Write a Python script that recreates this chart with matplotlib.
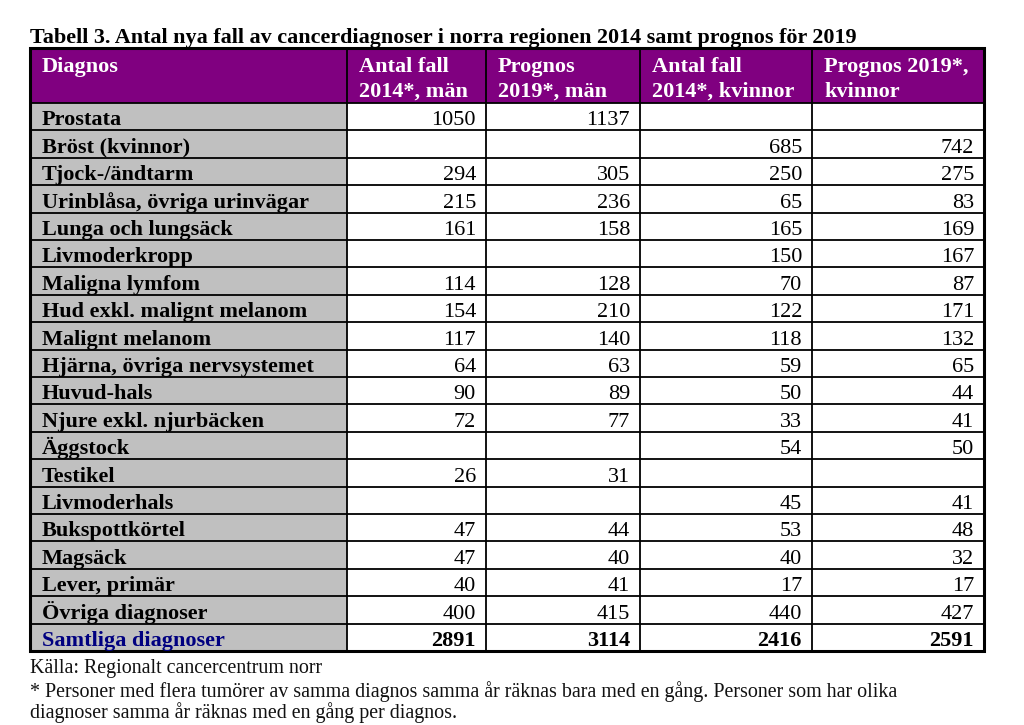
import matplotlib.pyplot as plt
from matplotlib.patches import Rectangle

plt.rcParams['font.family'] = ['Liberation Serif', 'DejaVu Serif']

title = 'Tabell 3. Antal nya fall av cancerdiagnoser i norra regionen 2014 samt prognos för 2019'
headers = [['Diagnos'], ['Antal fall', '2014*, män'], ['Prognos', '2019*, män'],
           ['Antal fall', '2014*, kvinnor'], ['Prognos 2019*,', 'kvinnor']]

diagnoser = ['Prostata', 'Bröst (kvinnor)', 'Tjock-/ändtarm', 'Urinblåsa, övriga urinvägar',
             'Lunga och lungsäck', 'Livmoderkropp', 'Maligna lymfom', 'Hud exkl. malignt melanom',
             'Malignt melanom', 'Hjärna, övriga nervsystemet', 'Huvud-hals', 'Njure exkl. njurbäcken',
             'Äggstock', 'Testikel', 'Livmoderhals', 'Bukspottkörtel', 'Magsäck', 'Lever, primär',
             'Övriga diagnoser', 'Samtliga diagnoser']
man_2014 = [1050, None, 294, 215, 161, None, 114, 154, 117, 64, 90, 72, None, 26, None, 47, 47, 40, 400, 2891]
man_2019 = [1137, None, 305, 236, 158, None, 128, 210, 140, 63, 89, 77, None, 31, None, 44, 40, 41, 415, 3114]
kv_2014 = [None, 685, 250, 65, 165, 150, 70, 122, 118, 59, 50, 33, 54, None, 45, 53, 40, 17, 440, 2416]
kv_2019 = [None, 742, 275, 83, 169, 167, 87, 171, 132, 65, 44, 41, 50, None, 41, 48, 32, 17, 427, 2591]

kalla = 'Källa: Regionalt cancercentrum norr'
fotnot = ['* Personer med flera tumörer av samma diagnos samma år räknas bara med en gång. Personer som har olika',
          'diagnoser samma år räknas med en gång per diagnos.']

W, H = 1024, 725
fig = plt.figure(figsize=(W / 100, H / 100), dpi=100)
ax = fig.add_axes([0, 0, 1, 1])
ax.set_xlim(0, W)
ax.set_ylim(H, 0)
ax.axis('off')

# layout in pixels
col_x = [30, 347, 486, 640, 812, 984]
top = 48
head_h = 55
row_h = 27.4
fs = 16
purple = '#800080'
grey = '#C0C0C0'

ax.text(30, 43, title, fontsize=15.9, fontweight='bold', va='baseline', ha='left')

# header
ax.add_patch(Rectangle((col_x[0], top), col_x[-1] - col_x[0], head_h, facecolor=purple, edgecolor='none'))
for i, h in enumerate(headers):
    for k, line in enumerate(h):
        ax.text(col_x[i] + 12, top + 24 + k * 25, line, fontsize=fs, fontweight='bold',
                color='white', va='baseline', ha='left')

cols = [man_2014, man_2019, kv_2014, kv_2019]
y0 = top + head_h
n = len(diagnoser)
for r, lab in enumerate(diagnoser):
    y = y0 + r * row_h
    ax.add_patch(Rectangle((col_x[0], y), col_x[1] - col_x[0], row_h, facecolor=grey, edgecolor='none'))
    last = r == n - 1
    ax.text(col_x[0] + 12, y + row_h - 5, lab, fontsize=fs, fontweight='bold',
            color='#000080' if last else 'black', va='baseline', ha='left')
    for c, vals in enumerate(cols):
        v = vals[r]
        if v is None:
            continue
        ax.text(col_x[c + 2] - 10, y + row_h - 5, str(v), fontsize=fs,
                fontweight='bold' if last else 'normal', va='baseline', ha='right')

bottom = y0 + n * row_h
# grid lines
for r in range(n):
    yy = y0 + r * row_h
    ax.plot([col_x[0], col_x[-1]], [yy, yy], color='black', lw=1.3)
for x in col_x[1:-1]:
    ax.plot([x, x], [top, bottom], color='black', lw=1.3)
ax.add_patch(Rectangle((col_x[0], top), col_x[-1] - col_x[0], bottom - top,
                       facecolor='none', edgecolor='black', lw=2.2))

ax.text(30, 673, kalla, fontsize=14.4, va='baseline', ha='left', color='#111111')
ax.text(30, 697, fotnot[0], fontsize=14.4, va='baseline', ha='left', color='#111111')
ax.text(30, 718, fotnot[1], fontsize=14.4, va='baseline', ha='left', color='#111111')

fig.savefig('out.png', dpi=100)
